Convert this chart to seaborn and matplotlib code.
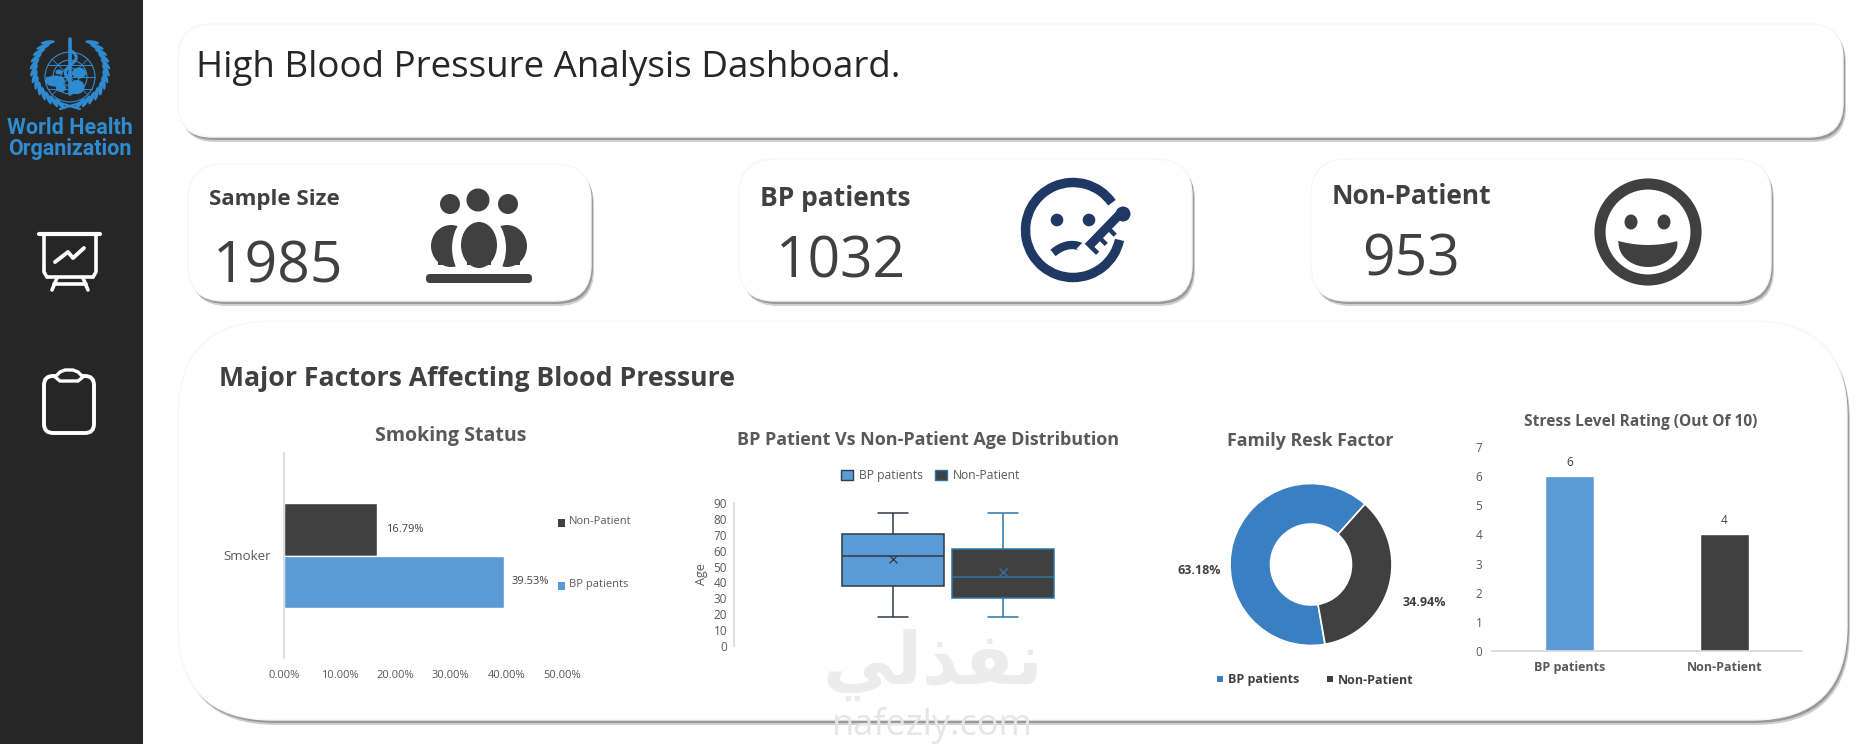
import numpy as np
import pandas as pd
import matplotlib
matplotlib.use('Agg')
import matplotlib.pyplot as plt
import seaborn as sns
from matplotlib.patches import Arc, Circle, Ellipse, FancyBboxPatch, Patch

W, H = 1865, 744
BLUE = '#5b9bd5'
DONUT_BLUE = '#3a7fc1'
DARK = '#404040'
TITLE_GREY = '#595959'
TICK_GREY = '#595959'
AXIS_GREY = '#d9d9d9'
BP_EDGE = '#2f3b46'
NP_EDGE = '#2e75a8'

GROUPS = ['BP patients', 'Non-Patient']

SAMPLE_SIZE = 1985
BP_COUNT = 1032
NON_COUNT = 953

SMOKER_PCT = [39.53, 16.79]
SMOKE_TICKS = [0, 10, 20, 30, 40, 50]

# min, q1, median, q3, max
BP_AGE = [18, 38, 56.4, 70.3, 84]
NON_AGE = [18, 30, 43.4, 60.8, 84]
AGE_MEANS = [54.5, 46.4]
AGE_TICKS = [0, 10, 20, 30, 40, 50, 60, 70, 80, 90]

FAMILY_PCT = [63.18, 34.94]

STRESS = [6, 4]
STRESS_TICKS = [0, 1, 2, 3, 4, 5, 6, 7]

sns.set_theme(style='white')
plt.rcParams['font.family'] = ['Open Sans', 'DejaVu Sans']
plt.rcParams['axes.facecolor'] = 'none'

fig = plt.figure(figsize=(W / 100, H / 100), dpi=100, facecolor='white')

bg = fig.add_axes([0, 0, 1, 1], zorder=0)
bg.set_xlim(0, W)
bg.set_ylim(H, 0)
bg.axis('off')


def px_axes(left, top, right, bottom):
    return fig.add_axes([left / W, 1 - bottom / H, (right - left) / W, (bottom - top) / H], zorder=2)


def panel(x0, y0, x1, y1, r):
    for dx, dy, col in [(3, 5, '#d0d0d0'), (2, 3, '#9a9a9a')]:
        bg.add_patch(FancyBboxPatch((x0 + dx, y0 + dy), x1 - x0, y1 - y0, boxstyle=f'round,pad=0,rounding_size={r}',
                                    fc=col, ec='none', zorder=1))
    bg.add_patch(FancyBboxPatch((x0, y0), x1 - x0, y1 - y0, boxstyle=f'round,pad=0,rounding_size={r}',
                                fc='white', ec='#f7f7f7', lw=1, zorder=2))


def line(xs, ys, color, lw, z=5, cap='round'):
    bg.plot(xs, ys, color=color, lw=lw, solid_capstyle=cap, solid_joinstyle='round', zorder=z)


def draw_logo():
    who = '#2f8bd0'
    cx, cy = 70, 77
    # globe
    for r in [25, 17, 9]:
        bg.add_patch(Circle((cx, cy), r, fc='none', ec=who, lw=0.8, zorder=3))
    for dy in (-12, 0, 12):
        half = np.sqrt(25 ** 2 - dy ** 2)
        line([cx - half, cx + half], [cy + dy, cy + dy], who, 0.7, 3)
    line([cx - 18, cx + 18], [cy - 18, cy + 18], who, 0.6, 3)
    line([cx - 18, cx + 18], [cy + 18, cy - 18], who, 0.6, 3)
    for x, y, w, h in [(55, 81, 20, 11), (61, 88, 10, 8), (77, 87, 15, 14), (79, 73, 14, 11), (59, 72, 7, 5)]:
        bg.add_patch(Ellipse((x, y), w, h, fc=who, ec='none', zorder=4))
    # laurel, t counted from the bottom of the wreath
    for t in np.arange(16, 146, 10.5):
        tr = np.radians(t)
        bg.add_patch(Ellipse((70 + 36 * np.sin(tr), 70 + 35 * np.cos(tr)), 14, 4, angle=-t - 30, fc=who, ec='none', zorder=3))
        bg.add_patch(Ellipse((70 - 36 * np.sin(tr), 70 + 35 * np.cos(tr)), 14, 4, angle=t + 30, fc=who, ec='none', zorder=3))
    line([50, 80], [100, 109], who, 1.6, 3)
    line([90, 60], [100, 109], who, 1.6, 3)
    # rod and snake
    line([cx, cx], [39, 94], who, 2.6, 6)
    ys = np.linspace(50, 92, 70)
    line(cx + 7 * np.sin((ys - 50) / 5) * (1 - (ys - 50) / 70), ys, who, 2.2, 6)
    bg.text(70, 128, 'World Health', color=who, fontsize=15.5, fontweight='bold', ha='center', va='center',
            family='Roboto', zorder=5)
    bg.text(70, 149, 'Organization', color=who, fontsize=15.5, fontweight='bold', ha='center', va='center',
            family='Roboto', zorder=5)


def draw_sidebar():
    bg.add_patch(plt.Rectangle((0, 0), 143, H, fc='#262626', ec='none', zorder=1))
    draw_logo()

    # presentation board
    c = 'white'
    line([39, 100], [234, 234], c, 3)
    line([44, 44, 47], [234, 272, 277], c, 2.6)
    line([96, 96, 93], [234, 272, 277], c, 2.6)
    line([47, 93], [277, 277], c, 2.6)
    line([55, 68, 73, 84], [262, 252, 258, 248], c, 2.8)
    line([57, 52], [278, 290], c, 2.6)
    line([83, 88], [278, 290], c, 2.6)
    line([54, 86], [284, 284], c, 2.6)

    # clipboard
    bg.add_patch(FancyBboxPatch((44, 376), 50, 57, boxstyle='round,pad=0,rounding_size=9', fc='none', ec=c, lw=2.8,
                                zorder=5))
    tx = [55, 60, 65, 73, 78, 83, 78, 60, 55]
    ty = [377, 372, 370, 370, 372, 377, 381, 381, 377]
    bg.fill(tx, ty, fc='#262626', ec=c, lw=2.4, zorder=6)


def draw_people():
    c = DARK
    for x, y, r in [(450, 204, 10), (478, 200, 11.5), (508, 204, 10)]:
        bg.add_patch(Circle((x, y), r, fc=c, ec='none', zorder=8))
    for ex, rx in [(451, 438), (507, 500)]:
        bg.add_patch(Ellipse((ex, 246), 40, 42, fc=c, ec='none', zorder=5))
        bg.add_patch(plt.Rectangle((rx, 254), 20, 11, fc=c, ec='none', zorder=5))
    bg.add_patch(Ellipse((479, 248), 54, 72, fc='white', ec='none', zorder=6))
    bg.add_patch(Ellipse((479, 245), 36, 46, fc=c, ec='none', zorder=7))
    bg.add_patch(plt.Rectangle((467, 250), 24, 15, fc=c, ec='none', zorder=7))
    bg.add_patch(FancyBboxPatch((426, 274), 106, 9, boxstyle='round,pad=0,rounding_size=4', fc=c, ec='none', zorder=8))


def draw_sad_face():
    c = '#1f3864'
    # theta runs clockwise on screen because the y axis is flipped
    bg.add_patch(Arc((1073, 230), 95, 95, theta1=12, theta2=325, ec=c, lw=6.8, zorder=5))
    for x in (1057, 1089):
        bg.add_patch(Circle((x, 220), 6.3, fc=c, ec='none', zorder=5))
    xs = np.linspace(1053, 1092, 20)
    line(xs, 245 + 0.022 * (xs - 1072) ** 2, c, 6, 5, 'butt')
    line([1084, 1128], [256, 211], 'white', 15, 6, 'butt')
    line([1088, 1120], [247, 214], c, 6.5, 7, 'butt')
    bg.add_patch(Circle((1123, 214), 7.5, fc=c, ec='none', zorder=7))
    for t in [0.05, 0.32, 0.6]:
        x = 1090 + 32 * t
        y = 249 - 33 * t
        line([x, x + 6], [y, y + 6], c, 3.2, 7, 'butt')


def draw_smile():
    c = DARK
    cx, cy = 1648, 232
    bg.add_patch(Circle((cx, cy), 48, fc='none', ec=c, lw=8, zorder=5))
    for x in (1631, 1664):
        bg.add_patch(Ellipse((x, 222), 13, 15, fc=c, ec='none', zorder=5))
    t = np.linspace(0, np.pi, 40)
    top = np.linspace(1618, 1677, 40)
    xs = np.r_[cx + 29.5 * np.cos(t), top]
    ys = np.r_[243 + 24 * np.sin(t), 241 + 4 * (1 - ((top - cx) / 29.5) ** 2)]
    bg.fill(xs, ys, fc=c, ec='none', zorder=5)


draw_sidebar()
panel(178, 24, 1843, 137, 34)
panel(188, 164, 591, 301, 36)
panel(739, 159, 1192, 301, 36)
panel(1311, 159, 1771, 301, 36)
panel(178, 321, 1847, 720, 95)

# watermark
bg.text(933, 665, '\ufef2\ufedf\ufeac\ufed4\ufee7', color='#ececec', fontsize=52, fontweight='bold', ha='center',
        va='center', family='DejaVu Sans', zorder=3)
bg.text(932, 725, 'nafezly.com', color='#e6e6e6', fontsize=26, ha='center', va='center', zorder=3)

bg.text(196, 68, 'High Blood Pressure Analysis Dashboard.', color='#262626', fontsize=26.5, ha='left', va='center', zorder=5)
bg.text(209, 199, 'Sample Size', color=DARK, fontsize=16, fontweight='bold', ha='left', va='center', zorder=5)
bg.text(213, 268, str(SAMPLE_SIZE), color=DARK, fontsize=41, ha='left', va='center', zorder=5)
bg.text(760, 198, 'BP patients', color=DARK, fontsize=19, fontweight='bold', ha='left', va='center', zorder=5)
bg.text(776, 263, str(BP_COUNT), color=DARK, fontsize=41, ha='left', va='center', zorder=5)
bg.text(1332, 197, 'Non-Patient', color=DARK, fontsize=19, fontweight='bold', ha='left', va='center', zorder=5)
bg.text(1362, 261, str(NON_COUNT), color=DARK, fontsize=41, ha='left', va='center', zorder=5)
bg.text(219, 379, 'Major Factors Affecting Blood Pressure', color=DARK, fontsize=19.2, fontweight='bold', ha='left',
        va='center', zorder=5)

draw_people()
draw_sad_face()
draw_smile()

# smoking bars
ax = px_axes(284, 453, 561.7, 658)
smoke = pd.DataFrame({'row': ['Smoker'] * 2, 'group': GROUPS, 'pct': SMOKER_PCT})
sns.barplot(data=smoke, y='row', x='pct', hue='group', hue_order=GROUPS[::-1], orient='y',
            palette={GROUPS[0]: BLUE, GROUPS[1]: DARK}, saturation=1, width=0.517, legend=False, ax=ax)
ax.set_xlim(0, 50)
ax.set_xticks(SMOKE_TICKS, [f'{v:.2f}%' for v in SMOKE_TICKS])
ax.set_xlabel('')
ax.set_ylabel('')
for c in ax.containers:
    ax.bar_label(c, fmt='%.2f%%', padding=6, fontsize=8, color=DARK)
sns.despine(ax=ax, bottom=True)
ax.spines['left'].set_color(AXIS_GREY)
ax.tick_params(axis='x', labelsize=8, colors=TICK_GREY, length=0, pad=9)
ax.tick_params(axis='y', labelsize=9.5, colors=TICK_GREY, length=0, pad=9)
bg.text(451, 436, 'Smoking Status', color=TITLE_GREY, fontsize=14, fontweight='bold', ha='center', va='center', zorder=5)
bg.add_patch(plt.Rectangle((558, 519), 7, 8, fc=DARK, ec='none', zorder=5))
bg.text(569, 522, 'Non-Patient', color=TICK_GREY, fontsize=8, ha='left', va='center', zorder=5)
bg.add_patch(plt.Rectangle((558, 582), 7, 8, fc=BLUE, ec='none', zorder=5))
bg.text(569, 585, 'BP patients', color=TICK_GREY, fontsize=8, ha='left', va='center', zorder=5)

# age boxes
ax = px_axes(734, 503, 1162, 646)
for name, ages, fill, edge in [(GROUPS[0], BP_AGE, BLUE, BP_EDGE), (GROUPS[1], NON_AGE, DARK, NP_EDGE)]:
    sns.boxplot(x=[name] * len(ages), y=ages, order=GROUPS, color=fill, linecolor=edge, saturation=1, width=0.92,
                linewidth=1.1, capwidths=0.27, ax=ax)
sns.pointplot(x=GROUPS, y=AGE_MEANS, order=GROUPS, hue=GROUPS, palette=[BP_EDGE, NP_EDGE], markers='x',
              linestyle='none', errorbar=None, markersize=6, markeredgewidth=0.9, legend=False, ax=ax)
ax.set_xlim(-1.445, 2.445)
ax.set_ylim(0, 90)
ax.set_yticks(AGE_TICKS)
ax.set_xticks([])
ax.set_xlabel('')
ax.set_ylabel('Age', fontsize=9, color=TICK_GREY, labelpad=4)
sns.despine(ax=ax, bottom=True)
ax.spines['left'].set_color(AXIS_GREY)
ax.tick_params(axis='y', labelsize=8.5, colors=TICK_GREY, length=0, pad=5)
bg.text(928, 440, 'BP Patient Vs Non-Patient Age Distribution', color=TITLE_GREY, fontsize=13, fontweight='bold',
        ha='center', va='center', zorder=5)
ax.legend(handles=[Patch(fc=BLUE, ec=BP_EDGE, label=GROUPS[0]), Patch(fc=DARK, ec=NP_EDGE, label=GROUPS[1])],
          loc='center', bbox_to_anchor=(0.46, 1.19), ncol=2, frameon=False, fontsize=8.7, labelcolor=TICK_GREY,
          handlelength=1, handleheight=0.9, columnspacing=1, handletextpad=0.5)

# family donut
ax = px_axes(1230, 483, 1392, 646)
ax.pie(FAMILY_PCT, colors=[DONUT_BLUE, DARK], startangle=-80, counterclock=False, radius=1,
       wedgeprops={'width': 0.5, 'edgecolor': 'white', 'linewidth': 1.2})
ax.set_xlim(-1, 1)
ax.set_ylim(-1, 1)
bg.text(1310, 441, 'Family Resk Factor', color=TITLE_GREY, fontsize=12.8, fontweight='bold', ha='center', va='center', zorder=5)
bg.text(1199, 570, f'{FAMILY_PCT[0]:.2f}%', color=DARK, fontsize=9, fontweight='bold', ha='center', va='center', zorder=5)
bg.text(1424, 603, f'{FAMILY_PCT[1]:.2f}%', color=DARK, fontsize=9, fontweight='bold', ha='center', va='center', zorder=5)
bg.add_patch(plt.Rectangle((1217, 676), 6, 6, fc=DONUT_BLUE, ec='none', zorder=5))
bg.text(1228, 680, GROUPS[0], color=DARK, fontsize=9, fontweight='bold', ha='left', va='center', zorder=5)
bg.add_patch(plt.Rectangle((1327, 676), 6, 6, fc=DARK, ec='none', zorder=5))
bg.text(1338, 680, GROUPS[1], color=DARK, fontsize=9, fontweight='bold', ha='left', va='center', zorder=5)

# stress bars
ax = px_axes(1492, 447, 1802, 651)
sns.barplot(x=GROUPS, y=STRESS, hue=GROUPS, palette=[BLUE, DARK], saturation=1, width=0.31, legend=False, ax=ax)
ax.set_ylim(0, 7)
ax.set_yticks(STRESS_TICKS)
for c in ax.containers:
    ax.bar_label(c, padding=5, fontsize=8.5, color=DARK)
sns.despine(ax=ax, left=True)
ax.spines['bottom'].set_color(AXIS_GREY)
ax.tick_params(axis='y', labelsize=8.5, colors=TICK_GREY, length=0, pad=7)
ax.tick_params(axis='x', labelsize=9, colors=TITLE_GREY, length=0, pad=7)
for t in ax.get_xticklabels():
    t.set_fontweight('bold')
bg.text(1641, 422, 'Stress Level Rating (Out Of 10)', color=TITLE_GREY, fontsize=11.2, fontweight='bold', ha='center',
        va='center', zorder=5)

fig.savefig('out.png', dpi=100)
